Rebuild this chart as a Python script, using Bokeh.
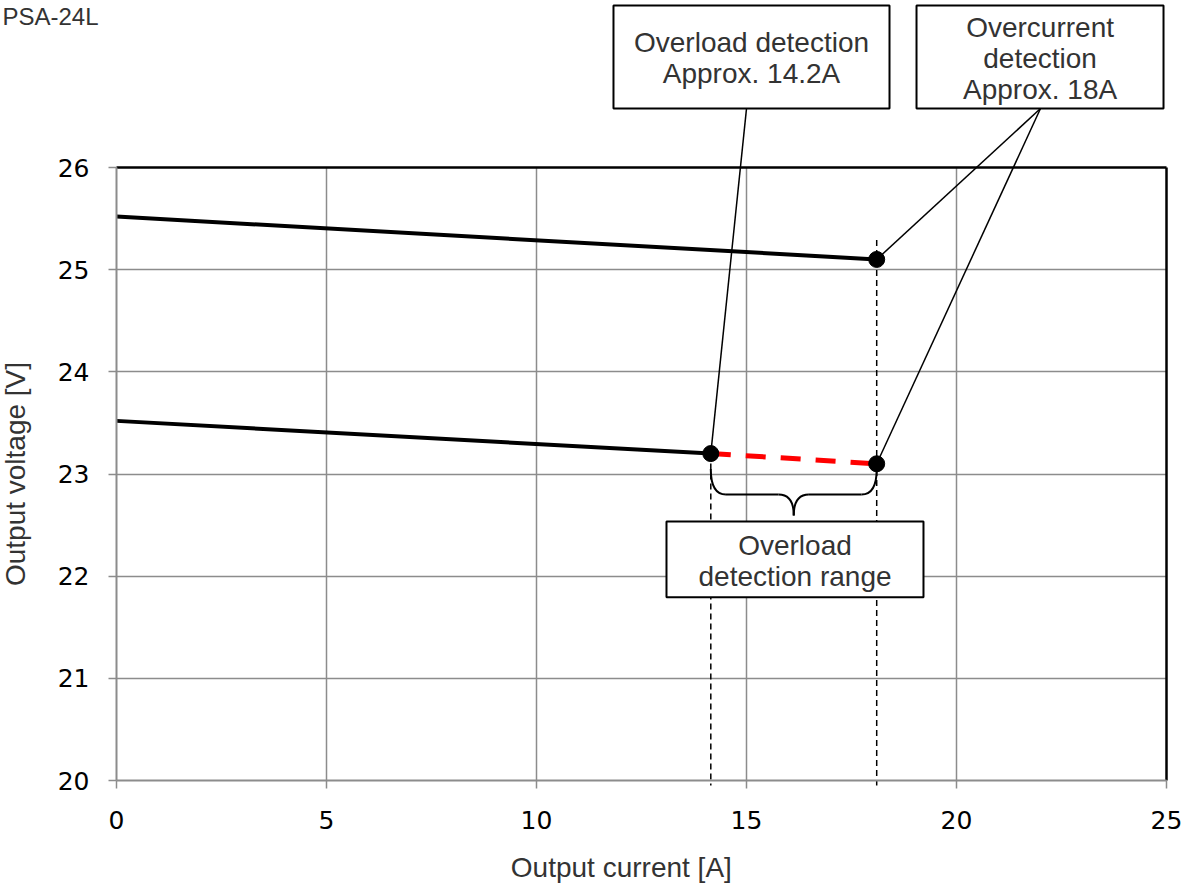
from bokeh.plotting import figure
from bokeh.models import Range1d, Label, BoxAnnotation, FixedTicker, LinearAxis, Grid
from bokeh.embed import file_html
from bokeh.resources import INLINE

# ---- data ----
x_ticks = [0, 5, 10, 15, 20, 25]
y_ticks = [20, 21, 22, 23, 24, 25, 26]

upper_current = [0.0, 18.1]
upper_voltage = [25.52, 25.1]
lower_current = [0.0, 14.15]
lower_voltage = [23.52, 23.2]
range_current = [14.15, 18.1]
range_voltage = [23.2, 23.1]
point_current = [18.1, 14.15, 18.1]
point_voltage = [25.1, 23.2, 23.1]

overload_a = 14.15
overcurrent_a = 18.1

title_text = "PSA-24L"
x_title = "Output current [A]"
y_title = "Output voltage [V]"
box1_text = "Overload detection\nApprox. 14.2A"
box2_text = "Overcurrent\ndetection\nApprox. 18A"
box3_text = "Overload\ndetection range"

# ---- page geometry (pixels) ----
W, H = 1182, 885
LEFT, RIGHT, TOP, BOTTOM = 116, 16, 167, 105
X0, X1 = x_ticks[0], x_ticks[-1]
Y0, Y1 = y_ticks[0], y_ticks[-1]
PX_X = (W - LEFT - RIGHT) / (X1 - X0)
PX_Y = (H - TOP - BOTTOM) / (Y1 - Y0)

FONT = "Liberation Sans"
GRID = "#8c8c8c"

p = figure(width=W, height=H, output_backend="svg", toolbar_location=None,
           x_range=Range1d(X0 - LEFT / PX_X, X1 + RIGHT / PX_X),
           y_range=Range1d(Y0 - BOTTOM / PX_Y, Y1 + TOP / PX_Y),
           x_axis_type=None, y_axis_type=None,
           min_border=0, min_border_left=0, min_border_right=0,
           min_border_top=0, min_border_bottom=0)
p.title.visible = False
p.outline_line_color = None
p.background_fill_color = "white"
p.border_fill_color = "white"

# ---- axes (placed at the data origin, limited to the data box) ----
xaxis = LinearAxis(ticker=FixedTicker(ticks=x_ticks), fixed_location=Y0, bounds=(X0, X1))
yaxis = LinearAxis(ticker=FixedTicker(ticks=y_ticks), fixed_location=X0, bounds=(Y0, Y1),
                   axis_label=y_title)
for ax in (xaxis, yaxis):
    ax.axis_line_color = GRID
    ax.axis_line_width = 2
    ax.major_tick_line_color = GRID
    ax.major_tick_line_width = 1.5
    ax.major_tick_in = 0
    ax.major_tick_out = 8
    ax.minor_tick_line_color = None
    ax.major_label_text_font = "DejaVu Sans"
    ax.major_label_text_font_size = "25px"
    ax.major_label_text_color = "#000000"
    ax.axis_label_text_font = FONT
    ax.axis_label_text_font_size = "28px"
    ax.axis_label_text_font_style = "normal"
    ax.axis_label_text_color = "#333333"
xaxis.major_label_standoff = 22
yaxis.major_label_standoff = 19
yaxis.axis_label_standoff = 24
p.add_layout(xaxis, "below")
p.add_layout(yaxis, "left")

# x-axis title (sits slightly left of the frame centre in the original)
p.add_layout(Label(x=12.02, y=Y0 - 87 / PX_Y, text=x_title, text_align="center",
                   text_baseline="middle", text_font=FONT, text_font_size="28px",
                   text_color="#333333"))

# ---- grid limited to the data box ----
xgrid_ticks = [t for t in x_ticks if X0 < t < X1]
ygrid_ticks = [t for t in y_ticks if Y0 < t < Y1]
try:
    xg = Grid(dimension=0, ticker=FixedTicker(ticks=xgrid_ticks), cross_bounds=(Y0, Y1),
              grid_line_color=GRID, grid_line_width=1.5)
    yg = Grid(dimension=1, ticker=FixedTicker(ticks=ygrid_ticks), cross_bounds=(X0, X1),
              grid_line_color=GRID, grid_line_width=1.5)
    p.add_layout(xg)
    p.add_layout(yg)
except AttributeError:
    p.segment(x0=xgrid_ticks, y0=[Y0] * len(xgrid_ticks), x1=xgrid_ticks, y1=[Y1] * len(xgrid_ticks),
              line_color=GRID, line_width=1.5)
    p.segment(x0=[X0] * len(ygrid_ticks), y0=ygrid_ticks, x1=[X1] * len(ygrid_ticks), y1=ygrid_ticks,
              line_color=GRID, line_width=1.5)

# top and right frame edges
p.segment(x0=[X0, X1], y0=[Y1, Y0], x1=[X1, X1], y1=[Y1, Y1],
          line_color="black", line_width=2.5)

# dashed verticals
p.segment(x0=[overload_a, overcurrent_a], y0=[point_voltage[1], 25.29],
          x1=[overload_a, overcurrent_a], y1=[19.95, 19.95],
          line_color="black", line_width=1.5, line_dash="6 4")

# main lines
p.line(upper_current, upper_voltage, line_width=4, color="black")
p.line(lower_current, lower_voltage, line_width=4, color="black")
p.line(range_current, range_voltage, line_width=5, color="red", line_dash="20 15")

# brace under the overload range
bt, bf, btip = 23.05, 22.80, 22.595
xm = (overload_a + overcurrent_a) / 2
d = 0.36
p.quadratic(x0=[overload_a, xm - d, xm + d, overcurrent_a],
            y0=[bt, bf, bf, bt],
            x1=[overload_a + d, xm, xm, overcurrent_a - d],
            y1=[bf, btip, btip, bf],
            cx=[overload_a, xm, xm, overcurrent_a],
            cy=[bf, bf, bf, bf], line_color="black", line_width=2)
p.segment(x0=[overload_a + d, xm + d], y0=[bf, bf],
          x1=[xm - d, overcurrent_a - d], y1=[bf, bf],
          line_color="black", line_width=2)

p.scatter(point_current, point_voltage, size=16, color="black")

# leader lines from the callout boxes to the detection points
p.segment(x0=[15.0, 22.0, 22.0], y0=[26.577, 26.577, 26.577],
          x1=[overload_a, overcurrent_a, overcurrent_a],
          y1=[point_voltage[1], point_voltage[0], point_voltage[2]],
          line_color="black", line_width=1.5)

# callout boxes and their texts
for l, r, tp, b in [(11.833, 18.405, 27.586, 26.577),
                    (19.048, 24.929, 27.586, 26.577),
                    (13.095, 19.214, 22.536, 21.793)]:
    p.add_layout(BoxAnnotation(left=l, right=r, top=tp, bottom=b,
                               fill_color="white", fill_alpha=1.0,
                               line_color="black", line_width=2, line_alpha=1.0))

for x, y, txt in [(15.12, 27.072, box1_text), (21.99, 27.066, box2_text),
                  (16.155, 22.15, box3_text)]:
    p.add_layout(Label(x=x, y=y, text=txt, text_align="center", text_baseline="middle",
                       text_font=FONT, text_font_size="28px",
                       text_color="#333333", text_line_height=1.0))

p.add_layout(Label(x=X0 - LEFT / PX_X + 2 / PX_X, y=Y1 + (TOP - 2) / PX_Y,
                   text=title_text, text_align="left", text_baseline="top",
                   text_font=FONT, text_font_size="24px", text_color="#333333"))

open("out.html", "w").write(file_html(p, INLINE))
